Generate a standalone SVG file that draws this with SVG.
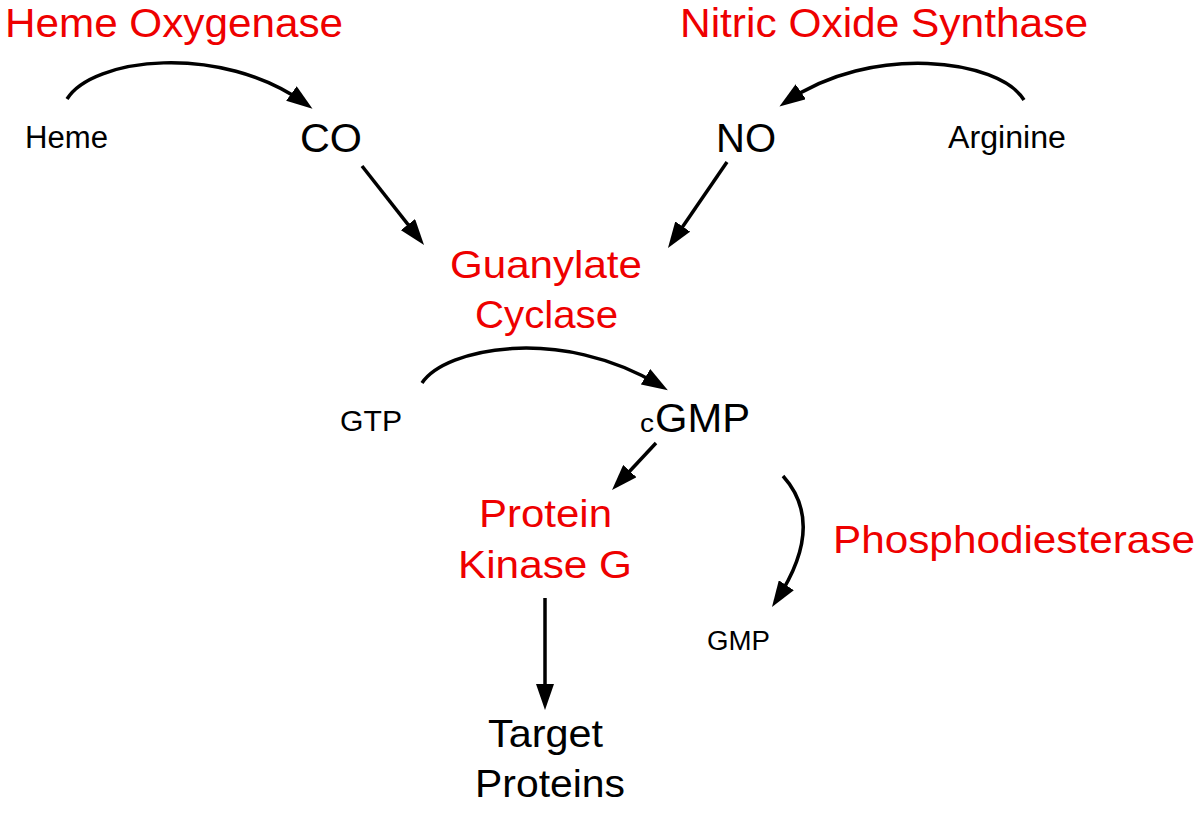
<svg xmlns="http://www.w3.org/2000/svg" width="1200" height="815" viewBox="0 0 1200 815">
<style>
text{font-family:"Liberation Sans",Arial,Helvetica,sans-serif}
.red{fill:#ee0000}
.blk{fill:#000}
.c{fill:none;stroke:#000;stroke-width:3.5;marker-end:url(#ah)}
</style>
<defs>
<marker id="ah" markerUnits="userSpaceOnUse" markerWidth="26" markerHeight="18" refX="18" refY="9" orient="auto">
<path d="M0,0 L26,9 L0,18 Z" fill="#000"/>
</marker>
</defs>
<rect width="1200" height="815" fill="#fff"/>
<g id="connectors">
<path class="c" d="M67,99 C92,58 220,42 306,104"/>
<path class="c" d="M1024,100 C999,59 871,43 786,102"/>
<path class="c" d="M362,166 L419.1,238.7"/>
<path class="c" d="M727,162 L672.5,241.4"/>
<path class="c" d="M422,383 C445,348 560,325 661,386"/>
<path class="c" d="M656,443 L617.5,484.2"/>
<path class="c" d="M545,598 L545,702"/>
<path class="c" d="M783,476 Q826.5,524.5 776.4,600.3"/>
</g>
<g id="heme-oxygenase"><text class="red" x="5" y="37" font-size="41" textLength="338" lengthAdjust="spacingAndGlyphs">Heme Oxygenase</text></g>
<g id="nos"><text class="red" x="680" y="37" font-size="41" textLength="408" lengthAdjust="spacingAndGlyphs">Nitric Oxide Synthase</text></g>
<g id="heme"><text class="blk" x="25" y="148" font-size="31" textLength="83" lengthAdjust="spacingAndGlyphs">Heme</text></g>
<g id="co"><text class="blk" x="300" y="152" font-size="40" textLength="62" lengthAdjust="spacingAndGlyphs">CO</text></g>
<g id="no"><text class="blk" x="716" y="152" font-size="40" textLength="60" lengthAdjust="spacingAndGlyphs">NO</text></g>
<g id="arginine"><text class="blk" x="948" y="148" font-size="31" textLength="118" lengthAdjust="spacingAndGlyphs">Arginine</text></g>
<g id="guanylate-cyclase">
<text class="red" x="450" y="278" font-size="39" textLength="192" lengthAdjust="spacingAndGlyphs">Guanylate</text>
<text class="red" x="475" y="328" font-size="39" textLength="143" lengthAdjust="spacingAndGlyphs">Cyclase</text>
</g>
<g id="gtp"><text class="blk" x="340" y="431" font-size="30" textLength="62" lengthAdjust="spacingAndGlyphs">GTP</text></g>
<g id="cgmp">
<text class="blk" x="640" y="432" font-size="26" textLength="14" lengthAdjust="spacingAndGlyphs">c</text>
<text class="blk" x="655" y="432" font-size="40" textLength="95" lengthAdjust="spacingAndGlyphs">GMP</text>
</g>
<g id="pkg">
<text class="red" x="479" y="527" font-size="38" textLength="133" lengthAdjust="spacingAndGlyphs">Protein</text>
<text class="red" x="458" y="578" font-size="38" textLength="174" lengthAdjust="spacingAndGlyphs">Kinase G</text>
</g>
<g id="pde"><text class="red" x="833" y="553" font-size="39" textLength="362" lengthAdjust="spacingAndGlyphs">Phosphodiesterase</text></g>
<g id="gmp"><text class="blk" x="707" y="650" font-size="27" textLength="63" lengthAdjust="spacingAndGlyphs">GMP</text></g>
<g id="target-proteins">
<text class="blk" x="488" y="747" font-size="39" textLength="115" lengthAdjust="spacingAndGlyphs">Target</text>
<text class="blk" x="475" y="797" font-size="39" textLength="150" lengthAdjust="spacingAndGlyphs">Proteins</text>
</g>
</svg>
